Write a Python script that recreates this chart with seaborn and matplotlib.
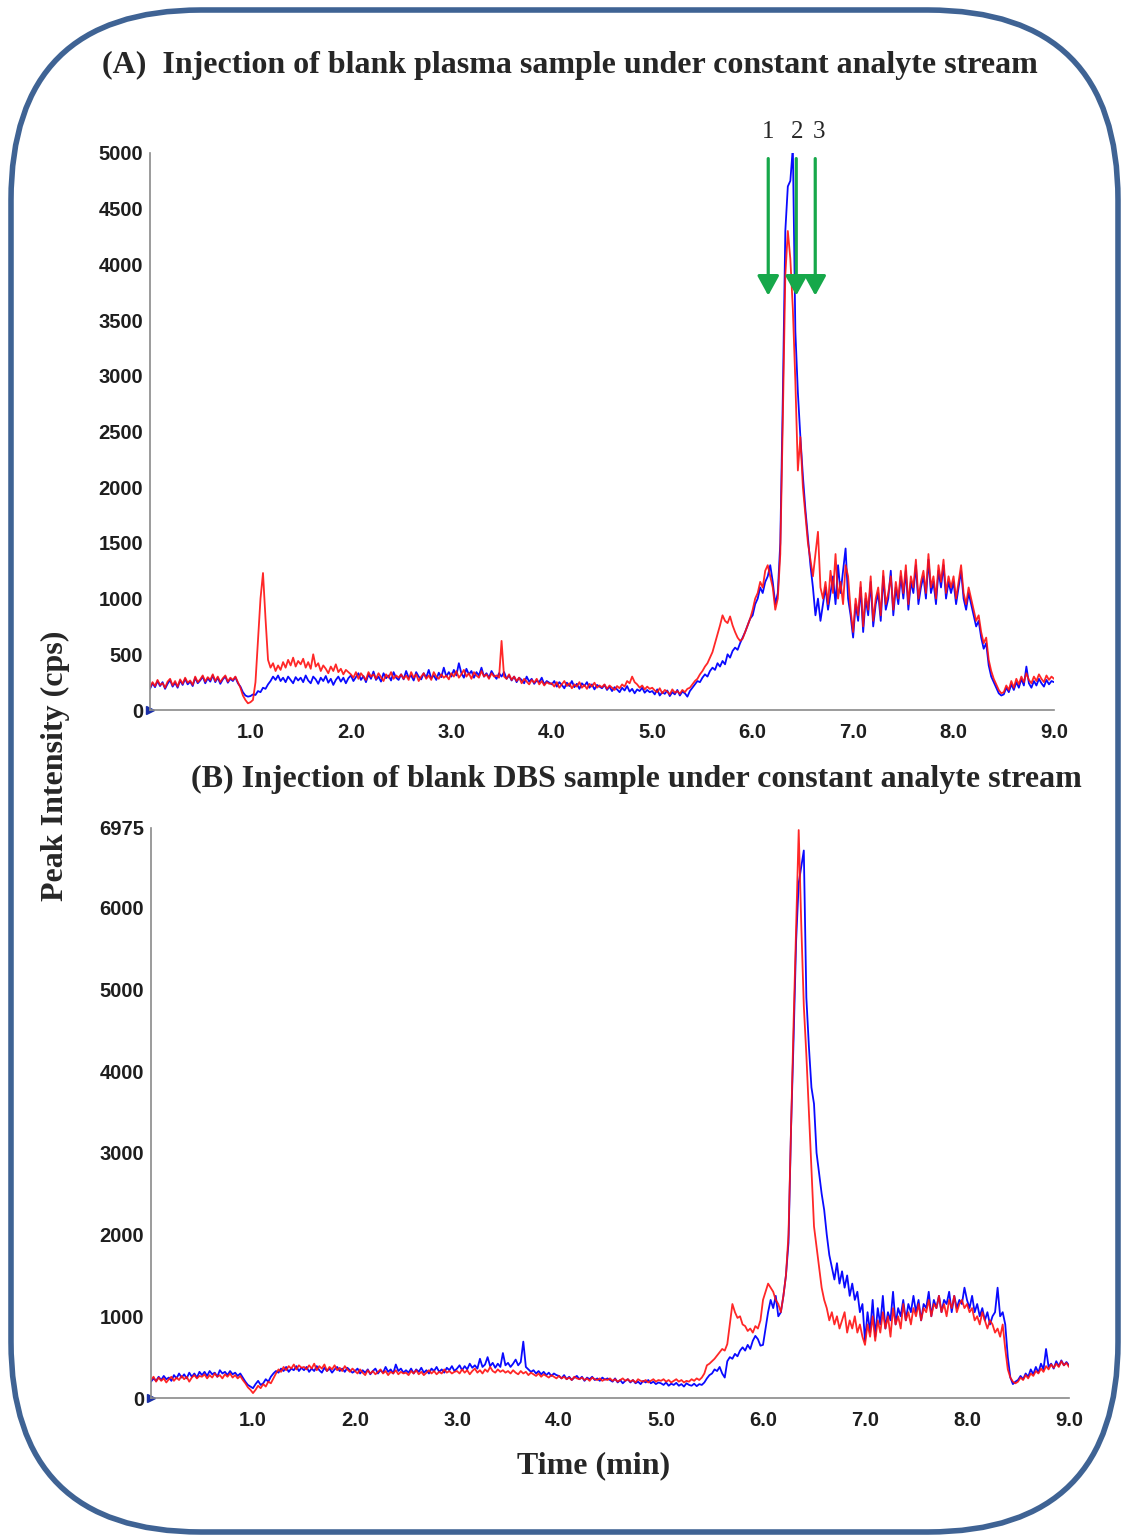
import numpy as np
import pandas as pd
import matplotlib.pyplot as plt
import seaborn as sns
from matplotlib.patches import FancyBboxPatch
from matplotlib.ticker import MultipleLocator

# Sampling times (min), one reading every 0.025 min
time_min = np.linspace(0.0, 9.0, 361)

# (A) blank plasma, intensities (cps), 20 values per half minute
plasma_blue = [
    190, 240, 205, 260, 215, 250, 190, 235, 270, 210, 245, 200, 265, 225, 280, 230, 255, 215, 290, 240,
    265, 300, 240, 285, 255, 310, 250, 290, 235, 275, 300, 245, 280, 260, 295, 240, 210, 160, 130, 120,
    125, 140, 135, 170, 160, 200, 190, 230, 260, 300, 270, 310, 260, 290, 250, 300, 270, 240, 295, 265,
    290, 250, 310, 265, 240, 300, 275, 235, 290, 260, 305, 245, 280, 225, 270, 300, 255, 290, 240, 285,
    310, 260, 295, 330, 270, 305, 250, 320, 280, 345, 270, 300, 255, 330, 285, 310, 265, 340, 290, 270,
    320, 275, 350, 290, 310, 265, 340, 300, 275, 330, 290, 360, 285, 310, 270, 335, 295, 380, 300, 340,
    300, 360, 310, 420, 330, 290, 370, 320, 350, 290, 340, 310, 380, 300, 330, 290, 350, 310, 280, 330,
    300, 340, 280, 310, 265, 300, 250, 290, 270, 240, 300, 255, 280, 235, 265, 250, 290, 230, 260, 245,
    230, 260, 210, 250, 225, 195, 245, 215, 260, 205, 235, 190, 240, 215, 250, 200, 230, 185, 225, 210,
    195, 225, 180, 210, 170, 205, 185, 160, 200, 175, 215, 165, 190, 150, 185, 170, 200, 155, 180, 160,
    170, 140, 185, 130, 160, 145, 175, 125, 160, 140, 180, 130, 165, 150, 120, 170, 200, 230, 260, 250,
    290, 320, 300, 350, 380, 360, 420, 390, 440, 410, 500, 470, 530, 560, 540, 600, 650, 700, 760, 820,
    850, 950, 1000, 1100, 1050, 1150, 1200, 1300, 1150, 950, 1050, 1500, 2800, 4300, 4700, 4750, 5050, 3400, 2850, 2450,
    2100, 1800, 1550, 1300, 1100, 850, 1000, 800, 950, 1100, 900, 1050, 1200, 950, 1300, 1050, 1250, 1450, 1000, 850,
    650, 950, 800, 1100, 700, 1000, 850, 1150, 750, 950, 1050, 800, 1200, 900, 1000, 1250, 850, 1100, 950, 1200,
    1000, 1250, 900, 1150, 1050, 1300, 950, 1100, 1200, 1000, 1350, 1050, 1150, 950, 1250, 1100, 1300, 1000, 1150, 1050,
    1150, 950, 1100, 1250, 1000, 900, 1050, 950, 850, 750, 800, 650, 550, 600, 400, 300, 250, 200, 150, 130,
    140, 200, 160, 230, 180, 250, 200, 280, 220, 390, 240, 200, 260, 220, 280, 240, 210, 270, 230, 260,
    250,
]
plasma_red = [
    200, 250, 215, 270, 225, 240, 200, 255, 280, 220, 260, 210, 275, 235, 290, 245, 265, 225, 300, 250,
    275, 310, 255, 295, 270, 320, 260, 300, 250, 285, 310, 255, 290, 270, 300, 250, 200, 130, 90, 60,
    70, 90, 250, 620, 1000, 1230, 820, 450, 380, 420, 350, 400, 360, 430, 380, 450, 400, 470, 390, 440,
    410, 460, 380, 430, 370, 500, 390, 420, 350, 400, 370, 330, 390, 350, 410, 340, 370, 320, 360, 340,
    320, 290, 340, 280, 330, 300, 270, 340, 300, 320, 280, 330, 295, 260, 320, 290, 340, 280, 310, 290,
    320, 280, 310, 270, 340, 290, 320, 260, 300, 330, 280, 310, 270, 340, 300, 280, 320, 290, 310, 275,
    330, 300, 350, 290, 320, 360, 300, 330, 280, 340, 310, 290, 350, 300, 320, 280, 330, 300, 310, 290,
    620, 300, 280, 320, 270, 300, 260, 290, 240, 280, 255, 230, 270, 245, 280, 230, 260, 220, 250, 235,
    240, 210, 250, 200, 230, 260, 215, 240, 195, 230, 210, 250, 200, 225, 190, 235, 210, 245, 200, 220,
    205, 230, 190, 220, 200, 180, 215, 195, 230, 210, 260, 240, 300, 250, 230, 200, 220, 185, 210, 190,
    200, 175, 160, 195, 150, 180, 165, 140, 185, 155, 170, 145, 180, 160, 190, 200, 230, 260, 280, 320,
    350, 390, 420, 470, 520, 600, 680, 760, 850, 800, 780, 840, 760, 700, 650, 620, 640, 700, 760, 820,
    900, 1000, 1050, 1150, 1100, 1250, 1300, 1200, 1100, 900, 1000, 1400, 2600, 3900, 4300, 4050, 3600, 2950, 2150, 2450,
    2000, 1750, 1500, 1350, 1200, 1400, 1600, 1100, 1000, 1150, 950, 1250, 1050, 1400, 1000, 1150, 950, 1300, 1200, 900,
    700, 1000, 850, 1150, 750, 1050, 900, 1200, 800, 1000, 1100, 850, 1250, 950, 1050, 1200, 900, 1150, 1000, 1250,
    1050, 1300, 950, 1200, 1100, 1350, 1000, 1150, 1250, 1050, 1400, 1100, 1200, 1000, 1300, 1150, 1350, 1050, 1200, 1100,
    1200, 1000, 1150, 1300, 1050, 950, 1100, 1000, 900, 800, 850, 700, 600, 650, 450, 350, 280, 230, 180, 150,
    160, 220, 180, 260, 200, 280, 230, 300, 250, 330, 270, 240, 300, 260, 320, 280, 250, 310, 270, 300,
    280,
]

# (B) blank DBS
dbs_blue = [
    200, 240, 210, 260, 220, 270, 230, 250, 210, 280, 240, 300, 250, 290, 240, 310, 260, 300, 250, 320,
    280, 320, 270, 330, 290, 310, 260, 340, 300, 320, 280, 330, 290, 310, 270, 300, 250, 200, 160, 140,
    120, 170, 210, 160, 180, 230, 200, 260, 300, 330, 310, 360, 330, 380, 320, 360, 340, 390, 330, 370,
    340, 380, 320, 360, 330, 390, 340, 310, 370, 330, 360, 310, 350, 380, 330, 360, 320, 370, 340, 310,
    330, 360, 300, 340, 310, 350, 290, 330, 360, 300, 340, 310, 380, 320, 350, 300, 410, 330, 360, 310,
    340, 310, 360, 300, 350, 320, 370, 310, 340, 300, 360, 330, 380, 320, 350, 310, 370, 340, 390, 330,
    360, 400, 340, 390, 350, 420, 370, 400, 360, 480, 380, 410, 500, 390, 430, 370, 420, 380, 550, 400,
    430, 380, 420, 470, 400, 440, 690, 380, 350, 320, 340, 300, 330, 290, 320, 280, 310, 270, 300, 280,
    270, 240, 280, 230, 260, 220, 250, 270, 230, 260, 210, 250, 230, 260, 220, 240, 210, 250, 225, 240,
    220, 200, 240, 190, 220, 180, 210, 230, 190, 220, 180, 200, 170, 210, 190, 220, 180, 200, 170, 190,
    180, 160, 190, 150, 175, 160, 185, 150, 170, 140, 180, 160, 150, 175, 145, 170, 160, 190, 240, 280,
    300, 350, 330, 380, 300, 250, 450, 500, 480, 540, 510, 580, 620, 580, 650, 600, 700, 760, 720, 640,
    650, 850, 1050, 1200, 1100, 1250, 1000, 1050, 1250, 1500, 1900, 3300, 4400, 5600, 6300, 6500, 6700, 4900, 4300, 3800,
    3600, 3000, 2750, 2500, 2300, 2000, 1750, 1600, 1450, 1650, 1400, 1550, 1350, 1500, 1250, 1400, 1200, 1300, 1050, 1150,
    700, 1050, 800, 1200, 750, 1100, 900, 1250, 850, 1050, 950, 1300, 900, 1100, 1000, 1200, 950, 1150, 1050, 1250,
    1050, 1200, 950, 1150, 1100, 1300, 1000, 1200, 1100, 1250, 1050, 1200, 1150, 1300, 1050, 1250, 1100, 1200, 1150, 1350,
    1200, 1100, 1250, 1050, 1150, 1000, 1100, 950, 1050, 900, 1000, 1050, 1350, 1000, 1050, 900, 500, 250, 170, 200,
    220, 270, 230, 300, 260, 350, 290, 380, 310, 420, 350, 600, 380, 420, 360, 450, 390, 460, 400, 440,
    400,
]
dbs_red = [
    220, 260, 200, 250, 210, 240, 190, 230, 260, 210, 250, 220, 270, 230, 260, 200, 250, 280, 240, 270,
    260, 290, 240, 280, 250, 300, 260, 280, 240, 290, 260, 300, 250, 280, 240, 270, 220, 180, 130, 100,
    60, 100, 150, 120, 170, 140, 200, 180, 240, 300, 350, 320, 380, 340, 390, 360, 410, 350, 400, 370,
    380, 350, 400, 360, 420, 340, 390, 360, 410, 330, 380, 350, 400, 340, 370, 330, 390, 350, 320, 360,
    330, 300, 350, 310, 280, 340, 300, 330, 290, 320, 350, 300, 330, 280, 320, 300, 340, 290, 320, 300,
    310, 280, 330, 300, 340, 290, 320, 280, 310, 340, 300, 330, 290, 320, 300, 350, 310, 330, 300, 320,
    330, 300, 350, 310, 340, 290, 330, 360, 310, 340, 300, 350, 320, 380, 330, 310, 350, 320, 340, 310,
    330, 300, 340, 310, 290, 330, 300, 320, 280, 310, 290, 270, 300, 260, 290, 270, 250, 280, 260, 240,
    270, 240, 260, 230, 250, 220, 260, 240, 230, 250, 220, 240, 210, 250, 230, 220, 240, 210, 230, 220,
    240, 210, 230, 200, 220, 240, 210, 230, 200, 220, 190, 230, 210, 200, 220, 190, 210, 230, 200, 220,
    210, 230, 200, 220, 190, 210, 230, 200, 220, 190, 210, 200, 230, 210, 240, 220, 250, 300, 400, 420,
    450, 480, 520, 560, 600, 580, 660, 900, 1150, 1050, 980, 1000, 900, 880, 820, 850, 800, 880, 850, 950,
    1200, 1300, 1400, 1350, 1300, 1200, 1150, 1050, 1250, 1500, 2000, 3300, 4600, 5800, 6950, 5800, 4800, 4200, 3500, 2800,
    2100, 1850, 1600, 1350, 1200, 1100, 950, 1050, 900, 1000, 850, 950, 1050, 800, 950, 850, 1000, 800, 900, 750,
    650, 900, 750, 1000, 700, 950, 800, 1050, 850, 1000, 750, 1100, 900, 1000, 850, 1150, 950, 1050, 900, 1100,
    1000, 1150, 950, 1100, 1050, 1200, 1000, 1150, 1100, 1250, 1050, 1150, 1000, 1200, 1100, 1250, 1050, 1150, 1200, 1100,
    1150, 1050, 1100, 950, 1000, 900, 1050, 950, 850, 950, 900, 800, 850, 750, 900, 600, 350, 250, 200, 180,
    200, 250, 220, 280, 240, 300, 270, 330, 300, 360, 320, 390, 350, 410, 370, 420, 380, 450, 400, 430,
    380,
]

x_ticks = [1.0, 2.0, 3.0, 4.0, 5.0, 6.0, 7.0, 8.0, 9.0]
y_ticks_a = [0, 500, 1000, 1500, 2000, 2500, 3000, 3500, 4000, 4500, 5000]
y_ticks_b = [0, 1000, 2000, 3000, 4000, 5000, 6000, 6975]

marker_times = [6.155, 6.434, 6.623]
marker_labels = ["1", "2", "3"]
label_times = [6.155, 6.444, 6.663]

BLUE = "#0a0aff"
RED = "#ff1010"
GREEN = "#16a84a"
SERIF = "Liberation Serif"
SANS = "Liberation Sans"

sns.set_style("white")

W, H = 1129, 1540
fig = plt.figure(figsize=(W / 100, H / 100), dpi=100)

# rounded frame, drawn in inches so the corners stay circular
frame = FancyBboxPatch((0.11, 0.08), 11.07, 15.22,
                       boxstyle="round,pad=0,rounding_size=1.9",
                       transform=fig.dpi_scale_trans, fill=False,
                       edgecolor="#3f6394", linewidth=4)
fig.add_artist(frame)

ax_a = fig.add_axes([150 / W, (H - 710) / H, (1054 - 150) / W, (710 - 153) / H])
ax_b = fig.add_axes([151 / W, (H - 1398) / H, (1069 - 151) / W, (1398 - 828) / H])


def draw_panel(ax, blue, red, ymax, yticks, minor_y):
    df = pd.DataFrame({"time": time_min, "blue": blue, "red": red})
    sns.lineplot(data=df, x="time", y="blue", ax=ax, color=BLUE, linewidth=1.3,
                 estimator=None, sort=False)
    sns.lineplot(data=df, x="time", y="red", ax=ax, color=RED, linewidth=1.3,
                 estimator=None, sort=False, alpha=0.9)
    ax.plot([0], [0], marker=">", color="#1a2fa8", markersize=6, clip_on=False)
    ax.set_xlim(0, 9.0)
    ax.set_ylim(0, ymax)
    ax.set_xlabel("")
    ax.set_ylabel("")
    ax.set_xticks(x_ticks)
    ax.set_xticklabels([f"{t:.1f}" for t in x_ticks])
    ax.set_yticks(yticks)
    ax.set_yticklabels([str(v) for v in yticks])
    ax.xaxis.set_minor_locator(MultipleLocator(0.5))
    ax.yaxis.set_minor_locator(MultipleLocator(minor_y))
    for side in ["top", "right"]:
        ax.spines[side].set_visible(False)
    for side in ["left", "bottom"]:
        ax.spines[side].set_color("#8a8a8a")
        ax.spines[side].set_linewidth(1.2)
    ax.tick_params(axis="both", which="major", direction="out", length=3,
                   color="#8a8a8a", labelcolor="#1e1e1e")
    ax.tick_params(axis="both", which="minor", direction="out", length=2,
                   color="#b0b0b0")
    ax.tick_params(axis="x", pad=6)
    ax.tick_params(axis="y", pad=2)
    for lab in ax.get_xticklabels() + ax.get_yticklabels():
        lab.set_fontfamily(SANS)
        lab.set_fontweight("bold")
        lab.set_fontsize(14.5)
    ax.set_facecolor("none")


draw_panel(ax_a, plasma_blue, plasma_red, 5000, y_ticks_a, 100)
draw_panel(ax_b, dbs_blue, dbs_red, 6975, y_ticks_b, 200)

# green arrows and numbers over panel A
for t in marker_times:
    ax_a.annotate("", xy=(t, 3720), xytext=(t, 4950),
                  arrowprops=dict(arrowstyle="-|>,head_length=0.4,head_width=0.22",
                                  color=GREEN, lw=2.3, mutation_scale=30,
                                  shrinkA=0, shrinkB=0),
                  annotation_clip=False)
for t, lab in zip(label_times, marker_labels):
    ax_a.text(t, 5190, lab, ha="center", va="center", fontsize=18,
              family=SERIF, clip_on=False)

fig.text(570 / W, 1 - 65 / H,
         "(A)  Injection of blank plasma sample under constant analyte stream",
         ha="center", va="center", fontsize=23, fontweight="bold", family=SERIF)
fig.text(636 / W, 1 - 779 / H,
         "(B) Injection of blank DBS sample under constant analyte stream",
         ha="center", va="center", fontsize=23, fontweight="bold", family=SERIF)
fig.text(55 / W, 1 - 766 / H, "Peak Intensity (cps)", rotation=90,
         ha="center", va="center", fontsize=23, fontweight="bold", family=SERIF)
fig.text(594 / W, 1 - 1466 / H, "Time (min)",
         ha="center", va="center", fontsize=23, fontweight="bold", family=SERIF)

fig.savefig("out.png", dpi=100)
